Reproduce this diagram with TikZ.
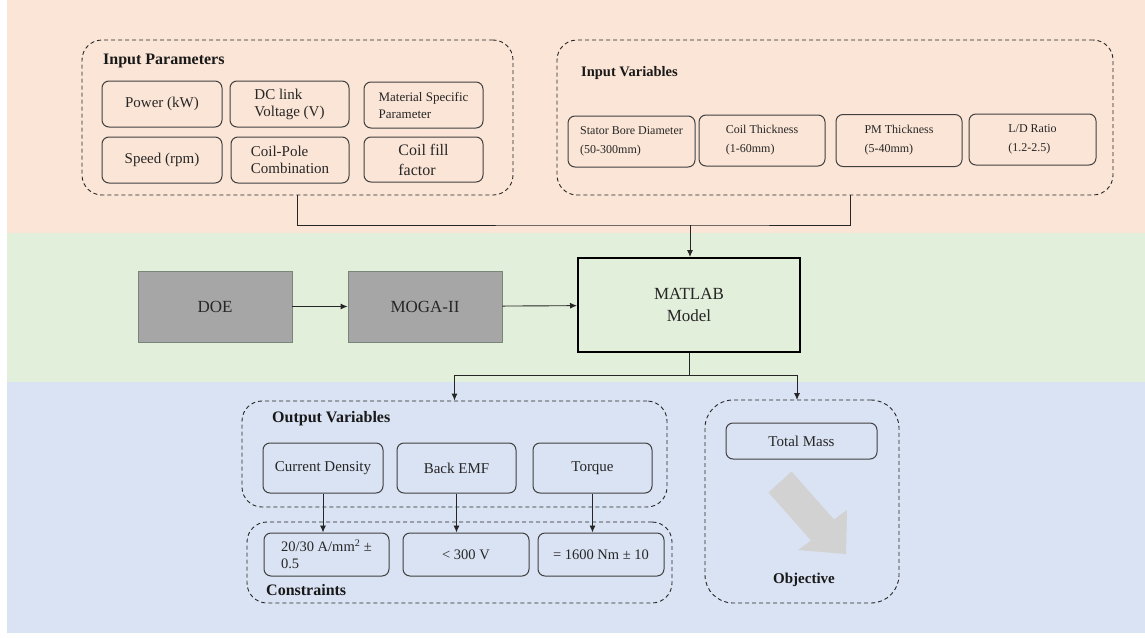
\documentclass[tikz,border=0pt]{standalone}
\usepackage{fontspec}
\setmainfont{Liberation Serif}
\usetikzlibrary{positioning,arrows.meta}
\definecolor{bandtop}{HTML}{FBE5D6}
\definecolor{bandmid}{HTML}{E2EFDA}
\definecolor{bandlow}{HTML}{DAE3F3}
\definecolor{boxline}{HTML}{404040}
\definecolor{blockgray}{HTML}{A6A6A6}
\definecolor{blockline}{HTML}{7A857A}
\definecolor{arrowgray}{HTML}{D2D2D2}
\tikzset{
  grp/.style={draw=black!85,dash pattern=on 4pt off 3pt,rounded corners=20pt,line width=0.9pt},
  pbox/.style={draw=boxline,rounded corners=7pt,line width=1pt,align=left,inner sep=2pt,
    text=black!85,font=\fontsize{15}{17}\selectfont},
  vbox/.style={pbox,font=\fontsize{12}{19}\selectfont},
  grptitle/.style={anchor=west,inner sep=0pt,text=black!90,font=\bfseries\fontsize{16}{18}\selectfont},
  gblock/.style={draw=blockline,fill=blockgray,line width=0.8pt,minimum width=154,minimum height=71,
    text=black!85,font=\fontsize{17}{19}\selectfont},
  flow/.style={-{Latex[length=7pt,width=6pt]},line width=0.9pt,draw=black!85}
}
\begin{document}
\begin{tikzpicture}[x=1pt,y=-1pt]
  % colour bands
  \fill[white] (0,0) rectangle (1145,637);
  \fill[bandtop] (7,0) rectangle (1145,233);
  \fill[bandmid] (7,233) rectangle (1145,382);
  \fill[bandlow] (7,382) rectangle (1145,633);
  \useasboundingbox (0,0) rectangle (1145,637);

  % inputs
  \node (ipar) [grp,minimum width=431,minimum height=155] at (297.5,117.5) {};
  \node (iparT) [grptitle] at (103,61) {Input Parameters};
  \node (power) [pbox,minimum width=120,minimum height=46] at (162,104) {Power (kW)};
  \node (dclink) [pbox,minimum width=119,minimum height=46] at (289.5,104) {DC link\\Voltage (V)};
  \node (matl) [pbox,minimum width=119,minimum height=46,font=\fontsize{13}{17}\selectfont] at (423.5,105) {Material Specific\\Parameter};
  \node (speed) [pbox,minimum width=120,minimum height=46] at (162,160) {Speed (rpm)};
  \node (cpole) [pbox,minimum width=118,minimum height=46] at (290,160) {Coil-Pole\\Combination};
  \node (cfill) [pbox,minimum width=119,minimum height=45,font=\fontsize{16}{20}\selectfont] at (423.5,159.5) {Coil fill\\factor};

  \node (ivar) [grp,minimum width=556,minimum height=155] at (835,117.5) {};
  \node (ivarT) [grptitle,font=\bfseries\fontsize{14.5}{17}\selectfont] at (581,73) {Input Variables};
  \node (sbd) [vbox,minimum width=127,minimum height=51] at (631.5,141.5) {Stator Bore Diameter\\(50-300mm)};
  \node (coilt) [vbox,minimum width=126,minimum height=51] at (762,140.5) {Coil Thickness\\(1-60mm)};
  \node (pmt) [vbox,minimum width=126,minimum height=52] at (899,140.5) {PM Thickness\\(5-40mm)};
  \node (ld) [vbox,minimum width=127,minimum height=51] at (1032.5,139.5) {L/D Ratio\\(1.2-2.5)};

  % model chain
  \node (doe) [gblock] at (215,306.5) {DOE};
  \node (moga) [gblock] at (425,306.5) {MOGA-II};
  \node (matlab) [draw=black,line width=2pt,minimum width=222,minimum height=94,align=center,
    text=black!85,font=\fontsize{17}{22}\selectfont] at (689,305) {MATLAB\\Model};

  % outputs
  \node (ovar) [grp,minimum width=425,minimum height=106] at (454.5,454) {};
  \node (ovarT) [grptitle] at (272,419) {Output Variables};
  \node (cd) [pbox,minimum width=120,minimum height=50] at (323,468) {Current Density};
  \node (bemf) [pbox,minimum width=119,minimum height=50] at (456.5,468) {Back EMF};
  \node (torq) [pbox,minimum width=119,minimum height=50] at (592.5,468) {Torque};

  \node (cons) [grp,minimum width=425,minimum height=81] at (459.5,562.5) {};
  \node (consT) [grptitle] at (266,590) {Constraints};
  \node (c1) [pbox,minimum width=125,minimum height=43,font=\fontsize{14.5}{17}\selectfont] at (326.5,554.5) {20/30 A/mm\textsuperscript{2} ±\\0.5};
  \node (c2) [pbox,minimum width=126,minimum height=43,font=\fontsize{14.5}{17}\selectfont] at (466,554.5) {< 300 V};
  \node (c3) [pbox,minimum width=126,minimum height=43,font=\fontsize{14.5}{17}\selectfont] at (601,554.5) {= 1600 Nm ± 10};

  \node (obj) [grp,rounded corners=28pt,minimum width=194,minimum height=203] at (802,501.5) {};
  \node (tmass) [pbox,minimum width=151,minimum height=36] at (801.5,441) {Total Mass};
  \node (objT) [grptitle,anchor=center,font=\bfseries\fontsize{15}{17}\selectfont] at (804,580) {Objective};
  \fill[arrowgray] (768.5,492.5) -- (791.5,471.5) -- (834,519.5) -- (847,510)
    -- (846,554) -- (798,550) -- (811,540.5) -- cycle;

  % connectors
  \coordinate (join) at (690,225);
  \coordinate (ivarout) at (850,195);
  \coordinate (split) at (689,375);
  \draw[line width=0.9pt,black!85] (ipar.south) |- (join) -| (ivarout);
  \draw[flow] (join) -- (join |- matlab.north);
  \draw[flow] (doe) -- (moga);
  \draw[flow] (moga) -- (matlab);
  \draw[line width=0.9pt,black!85] (matlab.south) -- (split);
  \draw[flow] (split) -| (ovar.north);
  \draw[flow] (split) -| (797,400);
  \draw[flow] (cd.south) -- (cd.south |- c1.north);
  \draw[flow] (bemf.south) -- (bemf.south |- c2.north);
  \draw[flow] (torq.south) -- (torq.south |- c3.north);
\end{tikzpicture}
\end{document}
